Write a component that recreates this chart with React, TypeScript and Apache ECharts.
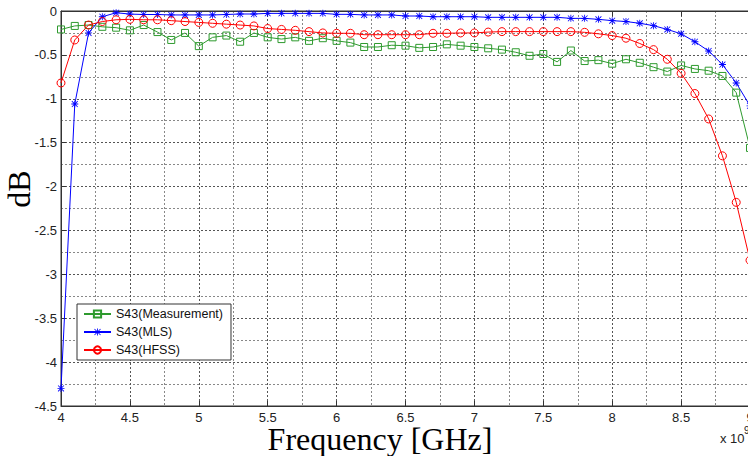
import React, { useEffect, useRef } from "react";
import * as echarts from "echarts";

const freqGHz = [
  4.0, 4.1, 4.2, 4.3, 4.4, 4.5, 4.6, 4.7, 4.8, 4.9,
  5.0, 5.1, 5.2, 5.3, 5.4, 5.5, 5.6, 5.7, 5.8, 5.9,
  6.0, 6.1, 6.2, 6.3, 6.4, 6.5, 6.6, 6.7, 6.8, 6.9,
  7.0, 7.1, 7.2, 7.3, 7.4, 7.5, 7.6, 7.7, 7.8, 7.9,
  8.0, 8.1, 8.2, 8.3, 8.4, 8.5, 8.6, 8.7, 8.8, 8.9, 9.0,
];

const measurement = [
  -0.21, -0.17, -0.16, -0.18, -0.19, -0.22, -0.16, -0.24, -0.33, -0.25,
  -0.40, -0.30, -0.28, -0.35, -0.25, -0.30, -0.32, -0.30, -0.34, -0.31,
  -0.34, -0.36, -0.41, -0.41, -0.39, -0.395, -0.42, -0.41, -0.38, -0.395,
  -0.41, -0.425, -0.44, -0.47, -0.51, -0.49, -0.58, -0.45, -0.57, -0.56,
  -0.60, -0.55, -0.59, -0.64, -0.69, -0.62, -0.66, -0.68, -0.74, -0.93, -1.56,
];

const mls = [
  -4.3, -1.06, -0.25, -0.065, -0.02, -0.035, -0.04, -0.04, -0.045, -0.045,
  -0.045, -0.045, -0.04, -0.034, -0.034, -0.027, -0.027, -0.027, -0.027, -0.027,
  -0.038, -0.038, -0.045, -0.045, -0.045, -0.057, -0.057, -0.065, -0.065, -0.065,
  -0.065, -0.072, -0.072, -0.072, -0.072, -0.072, -0.072, -0.084, -0.084, -0.095,
  -0.11, -0.12, -0.14, -0.167, -0.21, -0.26, -0.35, -0.456, -0.61, -0.82, -1.08,
];

const hfss = [
  -0.82, -0.33, -0.16, -0.12, -0.10, -0.095, -0.10, -0.10, -0.11, -0.12,
  -0.13, -0.14, -0.15, -0.16, -0.17, -0.20, -0.21, -0.22, -0.235, -0.25,
  -0.254, -0.254, -0.27, -0.27, -0.27, -0.27, -0.27, -0.254, -0.254, -0.25,
  -0.25, -0.24, -0.235, -0.235, -0.235, -0.235, -0.235, -0.235, -0.243, -0.26,
  -0.28, -0.31, -0.37, -0.44, -0.55, -0.71, -0.94, -1.23, -1.65, -2.18, -2.84,
];

const seriesNames = ["S43(Measurement)", "S43(MLS)", "S43(HFSS)"];
const xTitle = "Frequency [GHz]";
const yTitle = "dB";

const GREEN = "#2e9a2e";
const BLUE = "#0000ff";
const RED = "#ff0000";

const ASTERISK =
  "path://M4.4,0h1.2v10h-1.2z M0,4.4h10v1.2h-10z M1.2,0.4L9.6,8.8L8.8,9.6L0.4,1.2z M8.8,0.4L9.6,1.2L1.2,9.6L0.4,8.8z";

const pair = (ys: number[]) => freqGHz.map((f, i) => [f, ys[i]]);

export default function App() {
  const ref = useRef<HTMLDivElement>(null);

  useEffect(() => {
    if (!ref.current) return;
    const chart = echarts.init(ref.current, null, { renderer: "svg" });
    const sans = "Liberation Sans";
    const gridLine = { color: "#555", type: [2, 2] as any, width: 1 };
    const minorLine = { color: "#888", type: [2, 2] as any, width: 1 };
    chart.setOption({
      animation: false,
      backgroundColor: "#fff",
      grid: {
        left: 61,
        top: 11,
        width: 689,
        height: 395,
        outerBoundsMode: "none",
        containLabel: false,
        show: true,
        borderColor: "#333",
        borderWidth: 1,
        backgroundColor: "transparent",
      },
      legend: {
        orient: "vertical",
        left: 77,
        top: 304,
        padding: [3, 8, 3, 6],
        itemGap: 4,
        itemWidth: 27,
        itemHeight: 9,
        backgroundColor: "#fff",
        borderColor: "#333",
        borderWidth: 1,
        borderRadius: 0,
        textStyle: { fontFamily: sans, fontSize: 12.5, color: "#111", lineHeight: 14 },
        data: seriesNames,
      },
      xAxis: [
        {
          type: "value",
          min: 4,
          max: 9,
          interval: 0.5,
          axisLine: { show: true, onZero: false, lineStyle: { color: "#333" } },
          axisTick: { show: true, inside: true, length: 5, lineStyle: { color: "#333" } },
          axisLabel: { fontFamily: sans, fontSize: 13, color: "#222", margin: 5 },
          splitLine: { show: true, lineStyle: gridLine },
          minorTick: { show: false, splitNumber: 2 },
          minorSplitLine: { show: true, lineStyle: minorLine },
        },
        {
          type: "value",
          position: "top",
          min: 4,
          max: 9,
          interval: 0.5,
          axisLine: { show: true, onZero: false, lineStyle: { color: "#333" } },
          axisTick: { show: true, inside: true, length: 5, lineStyle: { color: "#333" } },
          axisLabel: { show: false },
          splitLine: { show: false },
        },
      ],
      yAxis: {
        type: "value",
        min: -4.5,
        max: 0,
        interval: 0.5,
        axisLine: { show: true, onZero: false, lineStyle: { color: "#333" } },
        axisTick: { show: true, inside: true, length: 5, lineStyle: { color: "#333" } },
        axisLabel: { fontFamily: sans, fontSize: 13, color: "#222", margin: 4 },
        splitLine: { show: true, lineStyle: gridLine },
        minorTick: { show: false, splitNumber: 2 },
        minorSplitLine: { show: true, lineStyle: minorLine },
      },
      series: [
        {
          name: seriesNames[0],
          type: "line",
          data: pair(measurement),
          symbol: "rect",
          symbolSize: 7,
          showAllSymbol: true,
          lineStyle: { color: GREEN, width: 1 },
          itemStyle: { color: "transparent", borderColor: GREEN, borderWidth: 1 },
        },
        {
          name: seriesNames[1],
          type: "line",
          data: pair(mls),
          symbol: ASTERISK,
          symbolSize: 7,
          showAllSymbol: true,
          lineStyle: { color: BLUE, width: 1 },
          itemStyle: { color: BLUE },
        },
        {
          name: seriesNames[2],
          type: "line",
          data: pair(hfss),
          symbol: "circle",
          symbolSize: 8,
          showAllSymbol: true,
          lineStyle: { color: RED, width: 1 },
          itemStyle: { color: "transparent", borderColor: RED, borderWidth: 1 },
        },
      ],
      graphic: [
        {
          type: "text",
          x: 380,
          y: 439,
          style: {
            text: xTitle,
            font: '32px "Liberation Serif"',
            fill: "#000",
            textAlign: "center",
            textVerticalAlign: "middle",
          },
        },
        {
          type: "text",
          x: 19,
          y: 189,
          rotation: Math.PI / 2,
          style: {
            text: yTitle,
            font: '32px "Liberation Serif"',
            fill: "#000",
            textAlign: "center",
            textVerticalAlign: "middle",
          },
        },
        {
          type: "text",
          x: 720,
          y: 438,
          style: {
            text: "x 10",
            font: '13px "Liberation Sans"',
            fill: "#222",
            textAlign: "left",
            textVerticalAlign: "middle",
          },
        },
        {
          type: "text",
          x: 744,
          y: 430,
          style: {
            text: "9",
            font: '10px "Liberation Sans"',
            fill: "#222",
            textAlign: "left",
            textVerticalAlign: "middle",
          },
        },
      ],
    });
    return () => chart.dispose();
  }, []);

  return (
    <div
      ref={ref}
      style={{ position: "fixed", left: 0, top: 0, width: 748, height: 456, background: "#fff" }}
    />
  );
}
